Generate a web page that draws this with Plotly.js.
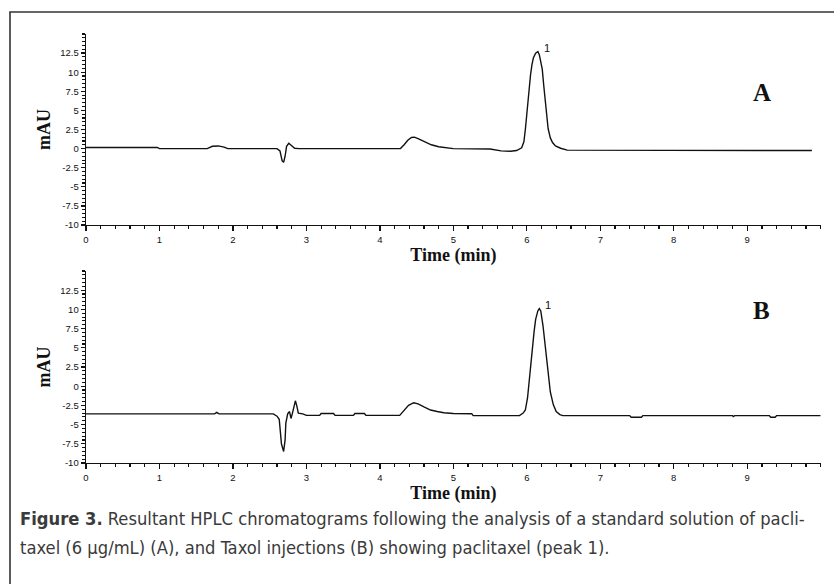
<!DOCTYPE html>
<html>
<head>
<meta charset="utf-8">
<script src="https://cdn.plot.ly/plotly-3.0.1.min.js"></script>
<style>
html,body{margin:0;padding:0;background:#fff;}
#chart{width:834px;height:584px;}
</style>
</head>
<body>
<div id="chart"></div>
<script>
// ---- Data ----
const timeA = [0,0.97,1.0,1.65,1.72,1.8,1.88,1.93,2.6,2.64,2.67,2.69,2.71,2.73,2.76,2.8,2.84,2.9,
  4.28,4.33,4.38,4.43,4.47,4.52,4.6,4.7,4.8,4.9,5.0,5.5,5.65,5.78,5.86,5.93,5.96,5.98,6.0,6.025,6.05,
  6.07,6.09,6.12,6.15,6.17,6.19,6.21,6.23,6.25,6.27,6.29,6.32,6.35,6.39,6.46,6.55,9.88];
const mAU_A = [0.15,0.15,0.0,0.0,0.3,0.35,0.2,0.0,0.0,-0.3,-1.6,-1.8,-1.0,0.3,0.7,0.4,0.05,0.0,
  0.0,0.5,1.1,1.45,1.5,1.3,0.9,0.5,0.25,0.15,0.0,-0.05,-0.3,-0.35,-0.25,0.1,0.9,2.5,4.8,7.4,9.6,
  11.0,11.9,12.5,12.7,12.3,11.5,10.4,8.3,6.1,4.2,2.6,1.4,0.8,0.35,0.05,-0.2,-0.25];

const timeB = [0,1.75,1.78,1.81,2.55,2.6,2.63,2.66,2.69,2.71,2.72,2.745,2.77,2.79,2.81,2.83,2.85,2.87,2.89,2.95,
  3.0,3.18,3.2,3.37,3.39,3.64,3.66,3.79,3.81,4.27,4.33,4.39,4.46,4.52,4.6,4.69,4.78,4.87,5.0,5.25,5.27,
  5.9,5.95,5.98,6.01,6.03,6.05,6.07,6.1,6.12,6.15,6.17,6.19,6.22,6.245,6.27,6.295,6.32,6.36,6.4,6.45,6.49,
  7.4,7.42,7.56,7.58,8.8,8.81,8.83,9.3,9.32,9.38,9.4,10.0];
const mAU_B = [-3.6,-3.6,-3.4,-3.6,-3.6,-3.9,-4.3,-7.5,-8.5,-7.0,-4.8,-3.6,-3.3,-4.2,-3.5,-2.6,-1.9,-2.6,-3.5,-3.6,
  -3.8,-3.8,-3.55,-3.55,-3.8,-3.8,-3.55,-3.55,-3.8,-3.8,-3.2,-2.5,-2.15,-2.3,-2.7,-3.1,-3.3,-3.45,-3.55,-3.58,-3.83,
  -3.83,-3.5,-3.1,-1.5,0.55,2.8,4.85,7.2,8.7,9.8,10.1,9.8,7.9,5.7,3.55,1.3,-0.75,-2.4,-3.3,-3.7,-3.83,
  -3.83,-4.05,-4.05,-3.83,-3.83,-3.95,-3.83,-3.83,-4.05,-4.05,-3.83,-3.83];

const xTickVals = [0,1,2,3,4,5,6,7,8,9];
const yTickVals = [-10,-7.5,-5,-2.5,0,2.5,5,7.5,10,12.5];
const yTickText = ["-10","-7.5","-5","-2.5","0","2.5","5","7.5","10","12.5"];
const panelLabels = ["A","B"];
const peakLabel = "1";
const peakA = {t:6.15, v:12.7};
const peakB = {t:6.17, v:10.1};
const captionLine1 = '<b>Figure 3.</b> Resultant HPLC chromatograms following the analysis of a standard solution of pacli-';
const captionLine2 = 'taxel (6 µg/mL) (A), and Taxol injections (B) showing paclitaxel (peak 1).';

// ---- Layout helpers ----
const W = 834, H = 584;
const px = x => x / W;
const py = y => 1 - y / H;

const lineStyle = {color:'#111', width:1.4};

const traces = [
  {x:timeA, y:mAU_A, type:'scatter', mode:'lines', line:lineStyle, xaxis:'x', yaxis:'y', hoverinfo:'skip'},
  {x:timeB, y:mAU_B, type:'scatter', mode:'lines', line:lineStyle, xaxis:'x2', yaxis:'y2', hoverinfo:'skip'}
];

const tickFont = {family:'Liberation Sans, Arial, sans-serif', size:9.5, color:'#111'};
const titleFont = {family:'Liberation Serif, Times New Roman, serif', size:18, color:'#111', weight:'bold'};

function xAxis(anchor){
  return {
    domain:[px(86), px(820.7)], anchor:anchor, range:[0,10],
    showline:true, linecolor:'#111', linewidth:1.4,
    ticks:'outside', ticklen:5, tickwidth:1.3, tickcolor:'#111',
    tickvals:xTickVals, ticktext:xTickVals.map(String),
    minor:{dtick:0.2, ticks:'outside', ticklen:3, tickwidth:1.2, tickcolor:'#111', showgrid:false},
    showgrid:false, zeroline:false, tickfont:tickFont,
    title:{text:'Time (min)', font:titleFont, standoff:2}
  };
}
function yAxis(domain, anchor){
  return {
    domain:domain, anchor:anchor, range:[-10,15],
    showline:true, linecolor:'#111', linewidth:1.4,
    ticks:'outside', ticklen:4, tickwidth:1.3, tickcolor:'#111',
    tickvals:yTickVals, ticktext:yTickText,
    minor:{dtick:0.5, ticks:'outside', ticklen:2.5, tickwidth:1.1, tickcolor:'#111', showgrid:false},
    showgrid:false, zeroline:false, tickfont:tickFont,
    title:{text:'mAU', font:titleFont, standoff:5}
  };
}

const labelFont = {family:'Liberation Serif, Times New Roman, serif', size:25, color:'#111', weight:'bold'};
const captionFont = {family:'DejaVu Sans Condensed, Liberation Sans Narrow, Arial Narrow, sans-serif', size:18.2, color:'#3a3a3a'};

const layout = {
  width:W, height:H,
  margin:{l:0, r:0, t:0, b:0},
  paper_bgcolor:'#ffffff', plot_bgcolor:'rgba(0,0,0,0)',
  showlegend:false,
  xaxis: xAxis('y'),
  yaxis: yAxis([py(225), py(34)], 'x'),
  xaxis2: xAxis('y2'),
  yaxis2: yAxis([py(463), py(271)], 'x2'),
  shapes:[
    {type:'rect', xref:'paper', yref:'paper', x0:px(10), y0:py(620), x1:px(880), y1:py(12),
     line:{color:'#333', width:1.6}, fillcolor:'rgba(0,0,0,0)', layer:'below'}
  ],
  annotations:[
    {text:panelLabels[0], xref:'paper', yref:'paper', x:px(773), y:py(77), showarrow:false, font:labelFont},
    {text:panelLabels[1], xref:'paper', yref:'paper', x:px(772), y:py(310), showarrow:false, font:labelFont},
    {text:peakLabel, xref:'x', yref:'y', x:peakA.t, y:peakA.v, xanchor:'left', yanchor:'bottom', xshift:4, yshift:-4,
     showarrow:false, font:{family:'Liberation Sans, Arial, sans-serif', size:11, color:'#111'}},
    {text:peakLabel, xref:'x2', yref:'y2', x:peakB.t, y:peakB.v, xanchor:'left', yanchor:'bottom', xshift:4, yshift:-4,
     showarrow:false, font:{family:'Liberation Sans, Arial, sans-serif', size:11, color:'#111'}},
    {text:captionLine1, xref:'paper', yref:'paper', x:px(18), y:py(518), xanchor:'left', yanchor:'middle',
     align:'left', showarrow:false, font:captionFont},
    {text:captionLine2, xref:'paper', yref:'paper', x:px(18), y:py(547), xanchor:'left', yanchor:'middle',
     align:'left', showarrow:false, font:captionFont}
  ]
};

Plotly.newPlot('chart', traces, layout, {displayModeBar:false, staticPlot:true});
</script>
</body>
</html>
